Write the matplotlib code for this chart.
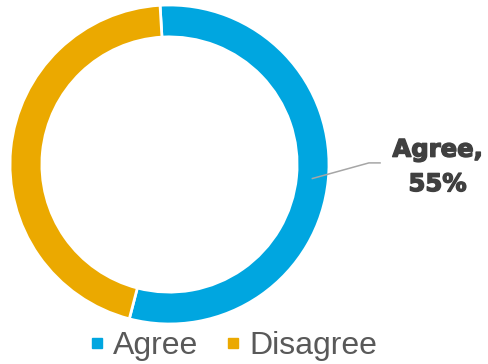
import numpy as np
import matplotlib
matplotlib.use("Agg")
import matplotlib.pyplot as plt
import matplotlib.patheffects as pe
from matplotlib.lines import Line2D

# ----------------------------------------------------------------------
# DATA
# ----------------------------------------------------------------------
labels = ["Agree", "Disagree"]
shares = [55, 45]
colors = ["#00A6E0", "#EBA900"]

START_ANGLE = 93.4   # first wedge starts just left of 12 o'clock
RING_WIDTH = 0.2

fig = plt.figure(figsize=(4.89, 3.64), dpi=100)
W, H = 489, 364
cx, cy, r = 169.5, 199.5, 159.5   # ring centre / radius in pixels (from bottom)
ax = fig.add_axes([(cx - r) / W, (cy - r) / H, 2 * r / W, 2 * r / H])

wedges, _ = ax.pie(shares, colors=colors, startangle=START_ANGLE, counterclock=False,
                   radius=1.0, wedgeprops=dict(width=RING_WIDTH, edgecolor="white", linewidth=2))
ax.set_xlim(-1, 1)
ax.set_ylim(-1, 1)
ax.set_aspect("equal")
ax.axis("off")

# ---------- callout for the first slice -------------------------------
mid = np.deg2rad(START_ANGLE - shares[0] / sum(shares) * 360 / 2)
r_mid = 1 - RING_WIDTH / 2
x0, y0 = r_mid * np.cos(mid), r_mid * np.sin(mid)
elbow_x, end_x, lead_y = 1.25, 1.32, 0.01
ax.plot([x0, elbow_x, end_x], [y0, lead_y, lead_y], color="#A6A6A6", lw=1.1,
        clip_on=False)
ax.text(1.68, -0.015, f"{labels[0]},\n{shares[0]}%", ha="center", va="center",
        fontsize=17.5, fontweight="bold", family="DejaVu Sans",
        color="#404040", linespacing=1.55,
        path_effects=[pe.withStroke(linewidth=1.0, foreground="#404040")])

# ---------- legend ----------------------------------------------------
handles = [Line2D([], [], marker="s", ls="", markersize=7, color=c) for c in colors]
fig.legend(handles, labels, loc="center", bbox_to_anchor=(0.479, 0.049), ncol=2,
           frameon=False, handlelength=0.35, handletextpad=0.35, columnspacing=0.9,
           borderpad=0, prop=dict(family="Liberation Sans", size=23), labelcolor="#595959")

fig.savefig("out.png", dpi=100)
